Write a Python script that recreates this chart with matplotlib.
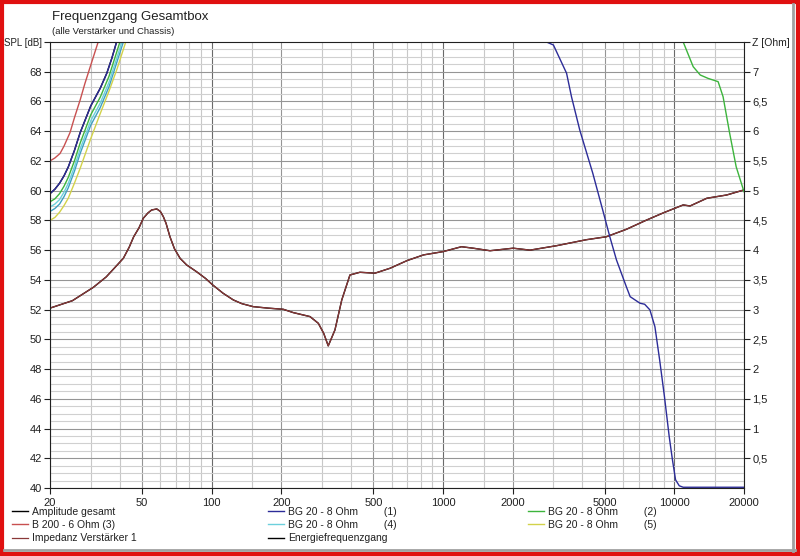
import numpy as np
import matplotlib
matplotlib.use("Agg")
import matplotlib.pyplot as plt
from matplotlib.patches import Rectangle
from matplotlib.lines import Line2D

plt.rcParams['font.family'] = ['Liberation Sans', 'DejaVu Sans']

# --- data (frequency in Hz, level in dB) ---
imp_f = [20, 25, 30.8, 35, 38, 41.5, 44, 46, 48.5, 50.6, 53, 55, 57.9, 60, 61.8,
         63.5, 66, 69, 73, 78, 86, 94, 101, 112, 124, 135, 151, 175,
         204, 225, 266, 289, 305, 319, 341, 365, 396, 437, 508, 590, 700, 824, 1000,
         1202, 1350, 1596, 2010, 2378, 3100, 4160, 5080, 6200, 7600, 9000, 10920,
         11690, 13820, 16840, 20000]
imp_db = [52.1, 52.6, 53.5, 54.2, 54.8, 55.45, 56.2, 56.9, 57.5, 58.14, 58.5, 58.7,
          58.77, 58.6, 58.25, 57.8, 56.9, 56.1, 55.45, 55.0, 54.55, 54.1, 53.66,
          53.1, 52.65, 52.4, 52.2, 52.1, 52.02, 51.8, 51.53, 51.08, 50.4, 49.56, 50.63,
          52.65, 54.33, 54.51, 54.45, 54.78, 55.3, 55.68, 55.9, 56.23, 56.13, 55.96,
          56.13, 56.0, 56.3, 56.7, 56.9, 57.4, 58.03, 58.52, 59.04, 58.97, 59.49,
          59.71, 60.05]

red_f = [20, 21, 22.1, 23, 24.4, 25.5, 27, 28.3, 29.8, 32.3]
red_db = [62.0, 62.2, 62.5, 63.0, 63.9, 64.9, 66.1, 67.2, 68.3, 70]

bg1_f = [20, 21, 22, 23, 24, 25.5, 27, 30, 33, 35.2, 37, 38.8, np.nan,
         2750, 2800, 3000, 3420, 3594, 3900, 4440, 4920, 5260, 5620, 6200, 6440,
         7100, 7440, 7840, 8240, 8640, 9060, 9500, 9810, 10120, 10500, 10920, 20000]
bg1_db = [59.8, 60.1, 60.5, 61.0, 61.6, 62.7, 63.9, 65.7, 66.9, 67.9, 68.9, 70, np.nan,
          70, 70, 69.8, 67.9, 66.3, 64.08, 61.17, 58.6, 56.9, 55.34, 53.54, 52.87,
          52.43, 52.36, 51.98, 50.85, 48.6, 46.15, 43.46, 41.9, 40.55, 40.15, 40.05, 40.05]

bg2_f = [20, 21, 22, 23, 24, 25.5, 27, 30, 33, 36, 40.1, np.nan,
         10920, 12060, 12940, 14000, 14720, 15460, 16240, 17340, 18500, 20000]
bg2_db = [59.25, 59.45, 59.8, 60.3, 60.9, 62.0, 63.2, 65.1, 66.3, 67.7, 70, np.nan,
          70, 68.34, 67.78, 67.55, 67.44, 67.33, 66.32, 63.86, 61.61, 59.93]

bg4_f = [20, 21, 22, 23, 24, 25.5, 27, 30, 33, 36, 40.9]
bg4_db = [58.9, 59.1, 59.4, 59.9, 60.5, 61.6, 62.8, 64.7, 65.9, 67.3, 70]

bg4b_f = [20, 21, 22, 23, 24, 25.5, 27, 30, 33, 36, 41.5]
bg4b_db = [58.6, 58.8, 59.1, 59.6, 60.2, 61.3, 62.5, 64.4, 65.6, 67.0, 70]

bg5_f = [20, 21, 22, 23, 24, 25.5, 27, 30, 33, 36, 39, 42.5]
bg5_db = [58.0, 58.2, 58.55, 59.0, 59.5, 60.5, 61.5, 63.5, 65.2, 66.7, 68.2, 70]

amp_f = [20, 21, 22, 23, 24, 25.5, 27, 30, 33, 35.2, 37, 38.8]
amp_db = [59.8, 60.1, 60.5, 61.0, 61.6, 62.7, 63.9, 65.7, 66.9, 67.9, 68.9, 70]

xticks = [20, 50, 100, 200, 500, 1000, 2000, 5000, 10000, 20000]
xminor = [30, 40, 60, 70, 80, 90, 150, 300, 400, 600, 700, 800, 900, 1500,
          3000, 4000, 6000, 7000, 8000, 9000, 15000]
z_ticks = [0.5, 1, 1.5, 2, 2.5, 3, 3.5, 4, 4.5, 5, 5.5, 6, 6.5, 7, 7.5]
z_labels = ['0,5', '1', '1,5', '2', '2,5', '3', '3,5', '4', '4,5', '5', '5,5',
            '6', '6,5', '7', 'Z [Ohm]']

fig = plt.figure(figsize=(8, 5.56), dpi=100)
ax = fig.add_axes([50 / 800, 1 - 488 / 556, 694 / 800, 446 / 556])

ax.set_xscale('log')
ax.set_xlim(20, 20000)
ax.set_ylim(40, 70)

# grid
for f in xminor:
    ax.axvline(f, color='#c8c8c8', lw=0.8, zorder=0)
for f in xticks:
    c = '#6a6a6a' if f in (100, 1000, 10000) else '#959595'
    ax.axvline(f, color=c, lw=0.8, zorder=0)
for v in np.arange(40, 70, 0.5):
    ax.axhline(v, color='#959595' if v % 2 == 0 else '#d0d0d0', lw=0.8, zorder=0)

ax.plot(amp_f, amp_db, color='black', lw=1.0, label='Amplitude gesamt')
ax.plot(red_f, red_db, color='#c85050', lw=1.0, label='B 200 - 6 Ohm (3)')
ax.plot(imp_f, imp_db, color='black', lw=1.0, label='Energiefrequenzgang')
ax.plot(imp_f, imp_db, color='#8a3838', lw=0.9, label='Impedanz Verstärker 1')
ax.plot(bg5_f, bg5_db, color='#d2d24a', lw=1.0, label='BG 20 - 8 Ohm         (5)')
ax.plot(bg4b_f, bg4b_db, color='#3fa0c0', lw=1.0)
ax.plot(bg4_f, bg4_db, color='#6cd0dc', lw=1.0, label='BG 20 - 8 Ohm         (4)')
ax.plot(bg2_f, bg2_db, color='#3cb43c', lw=1.0, label='BG 20 - 8 Ohm         (2)')
ax.plot(bg1_f, bg1_db, color='#2c2c98', lw=1.0, label='BG 20 - 8 Ohm         (1)')

ax.set_xticks(xticks)
ax.set_xticklabels([str(t) for t in xticks])
ax.set_xticks([], minor=True)
ax.set_yticks(np.arange(40, 71, 2))
ax.set_yticklabels([str(v) for v in range(40, 70, 2)] + ['SPL [dB]'])
ax.tick_params(axis='both', labelsize=8, length=4, width=0.8,
               colors='#202020', pad=2)
ax.tick_params(axis='x', pad=3)
ax.get_yticklabels()[-1].set_fontsize(7)
for s in ax.spines.values():
    s.set_color('#202020')
    s.set_linewidth(0.8)

ax2 = ax.twinx()
ax2.set_ylim(0, 7.5)
ax2.set_yticks(z_ticks)
ax2.set_yticklabels(z_labels)
ax2.tick_params(axis='y', labelsize=8, length=4, width=0.8, colors='#202020', pad=2)
ax2.get_yticklabels()[-1].set_fontsize(7.5)
for s in ax2.spines.values():
    s.set_visible(False)

fig.text(52 / 800, 1 - 17 / 556, 'Frequenzgang Gesamtbox', fontsize=9.5,
         color='#202020', va='center', ha='left')
fig.text(52 / 800, 1 - 32 / 556, '(alle Verstärker und Chassis)', fontsize=6.8,
         color='#202020', va='center', ha='left')

# legend in three columns
h = {l.get_label(): l for l in ax.get_lines()}
groups = [
    (12, ['Amplitude gesamt', 'B 200 - 6 Ohm (3)', 'Impedanz Verstärker 1']),
    (268, ['BG 20 - 8 Ohm         (1)', 'BG 20 - 8 Ohm         (4)', 'Energiefrequenzgang']),
    (528, ['BG 20 - 8 Ohm         (2)', 'BG 20 - 8 Ohm         (5)']),
]
for x0, names in groups:
    fig.legend([h[n] for n in names], names, loc='upper left',
               bbox_to_anchor=(x0 / 800, 1 - 507 / 556), frameon=False,
               fontsize=7.5, handlelength=1.5, handletextpad=0.4,
               borderpad=0, borderaxespad=0, labelspacing=0.3,
               labelcolor='#202020')

# window frame
fig.add_artist(Line2D([793 / 800, 793 / 800], [5 / 556, 1 - 4 / 556],
                      transform=fig.transFigure, color='#a0a0a0', lw=2))
fig.add_artist(Line2D([4 / 800, 795 / 800], [6 / 556, 6 / 556],
                      transform=fig.transFigure, color='#a0a0a0', lw=2))
fig.add_artist(Rectangle((0.002, 0.003), 0.996, 0.994, transform=fig.transFigure,
                         fill=False, edgecolor='#e01010', lw=3))

fig.savefig('out.png', dpi=100)
